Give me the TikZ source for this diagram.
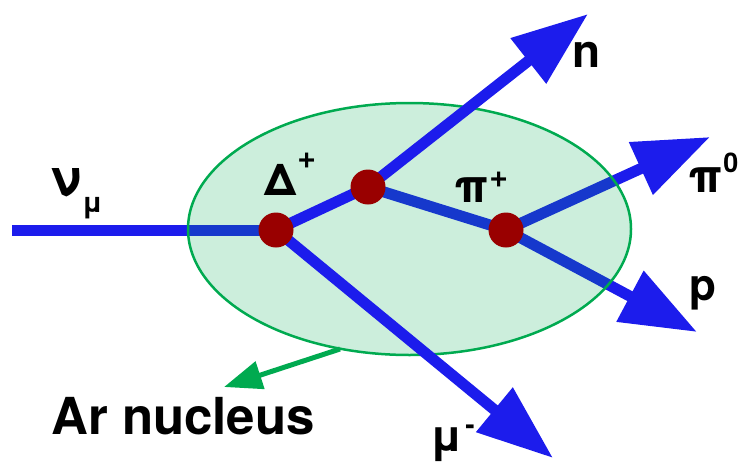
\documentclass[tikz,border=0pt]{standalone}
\usepackage{fontspec}
\setmainfont{TeX Gyre Heros}
\usetikzlibrary{arrows.meta,shapes.geometric}
\definecolor{pblue}{RGB}{28,28,236}
\definecolor{ngreen}{RGB}{0,170,80}
\definecolor{vred}{RGB}{153,0,0}
\tikzset{
  track/.style={draw=pblue, line width=11pt, line cap=butt},
  trackarrow/.style={track, -{Triangle[length=76pt,width=55pt]}},
  vertex/.style={circle, fill=vred, inner sep=0pt, minimum size=35pt},
  lab/.style={inner sep=0pt, anchor=base west, font=\bfseries\fontsize{46}{46}\selectfont},
  nucleus/.style={ellipse, draw=ngreen, line width=2.5pt, fill=ngreen, fill opacity=0.2, draw opacity=1, minimum width=443pt, minimum height=252pt, inner sep=0pt}
}
\newcommand{\smallsup}[2]{{\fontsize{#1}{#1}\selectfont #2}}
\begin{document}
\begin{tikzpicture}[x=1pt,y=-1pt]
\useasboundingbox (0,0) rectangle (742,461);
% key points
\coordinate (nuS) at (12,230);
\coordinate (A) at (276,230);
\coordinate (B) at (368,187);
\coordinate (C) at (506,230);
\coordinate (nT) at (588,14);
\coordinate (pi0T) at (710,137);
\coordinate (pT) at (697,332);
\coordinate (muT) at (553,458);
\coordinate (g1) at (340,349);
\coordinate (g2) at (224,387);
% tracks under the nucleus tint
\draw[track] (nuS) -- (A);
\draw[track] (B) -- (C);
\draw[trackarrow] (C) -- (pi0T);
\draw[trackarrow] (C) -- (pT);
% nucleus
\node[nucleus] (nuc) at (409.5,229) {};
% tracks over the nucleus
\draw[track] (A) -- (B);
\draw[trackarrow] (B) -- (nT);
\draw[trackarrow] (A) -- (muT);
% vertices
\node[vertex] (vA) at (A) {};
\node[vertex] (vB) at (B) {};
\node[vertex] (vC) at (C) {};
% pointer to nucleus label
\draw[draw=ngreen, line width=5pt, -{Triangle[length=38pt,width=28pt]}] (g1) -- (g2);
% labels
\node[lab, font=\bfseries\fontsize{50}{50}\selectfont] (lnu) at (50,195) {ν\kern1pt\raisebox{-17pt}{\smallsup{28}{μ}}};
\node[lab, font=\bfseries\fontsize{44}{44}\selectfont] (lDelta) at (264,195) {Δ\kern1pt\raisebox{27pt}{\smallsup{32}{+}}};
\node[lab] (lpip) at (454,202) {π\kern1pt\raisebox{15pt}{\smallsup{32}{+}}};
\node[lab] (ln) at (572,67) {n};
\node[lab] (lpi0) at (688,192) {π\kern1pt\raisebox{20pt}{\smallsup{27}{0}}};
\node[lab, font=\bfseries\fontsize{44}{44}\selectfont] (lp) at (689,300) {p};
\node[lab, font=\bfseries\fontsize{44}{44}\selectfont] (lmu) at (430,451) {μ\kern3pt\raisebox{17pt}{\smallsup{28}{-}}};
\node[lab, font=\bfseries\fontsize{51}{51}\selectfont] (lAr) at (51,434) {Ar nucleus};
\end{tikzpicture}
\end{document}
